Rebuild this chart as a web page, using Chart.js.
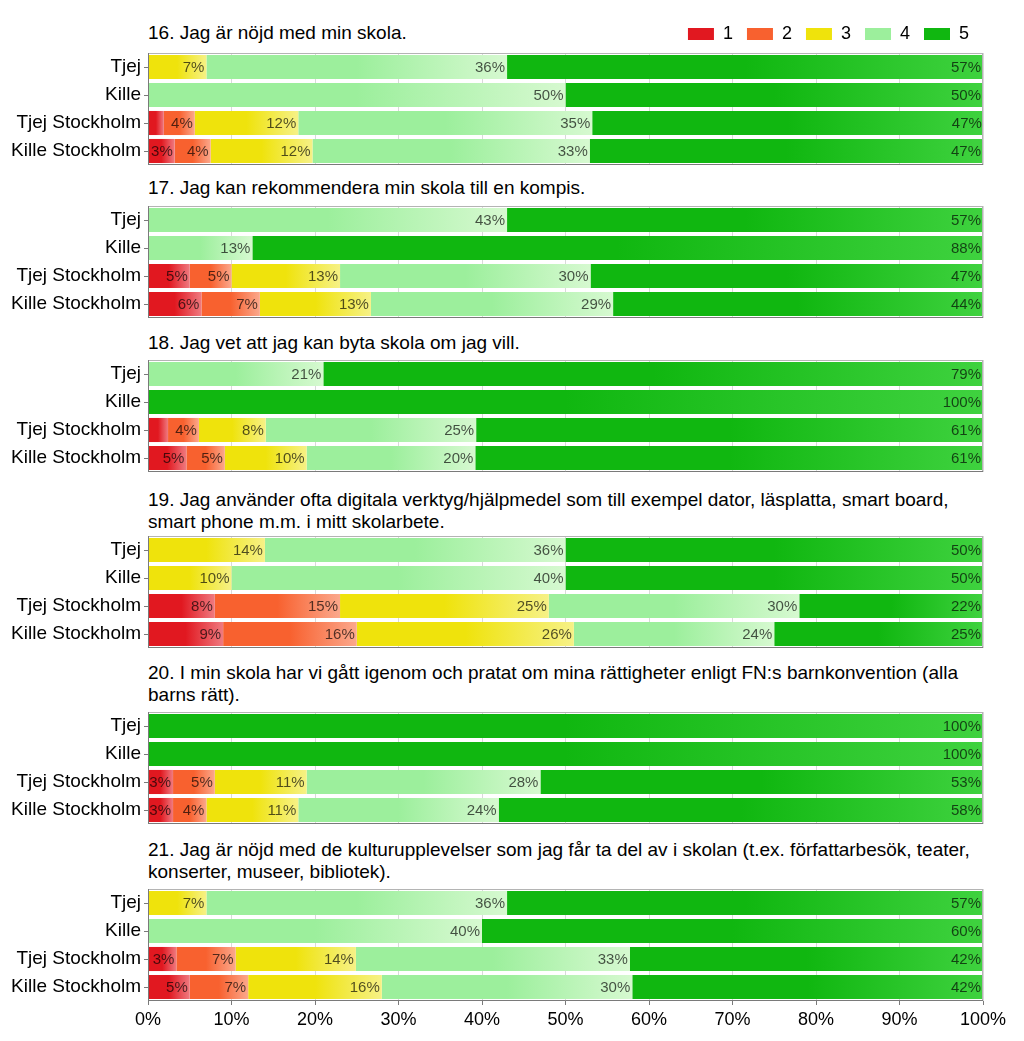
<!DOCTYPE html>
<html>
<head>
<meta charset="utf-8">
<script src="https://cdn.jsdelivr.net/npm/chart.js@4/dist/chart.umd.min.js"></script>
<style>
body { margin: 0; background: #fff; font-family: "Liberation Sans", Arial, sans-serif; }
#wrap { position: relative; width: 1024px; height: 1041px; overflow: hidden; }
.title { position: absolute; left: 148px; font-size: 19px; line-height: 22px; color: #000; white-space: nowrap; }
canvas { position: absolute; left: 0; }
</style>
</head>
<body>
<div id="wrap"></div>
<script>
// rows shown in every panel
const rowLabels = ['Tjej', 'Kille', 'Tjej Stockholm', 'Kille Stockholm'];
const seriesNames = ['1', '2', '3', '4', '5'];

const questions = [
    '16. Jag är nöjd med min skola.',
    '17. Jag kan rekommendera min skola till en kompis.',
    '18. Jag vet att jag kan byta skola om jag vill.',
    '19. Jag använder ofta digitala verktyg/hjälpmedel som till exempel dator, läsplatta, smart board,<br>smart phone m.m. i mitt skolarbete.',
    '20. I min skola har vi gått igenom och pratat om mina rättigheter enligt FN:s barnkonvention (alla<br>barns rätt).',
    '21. Jag är nöjd med de kulturupplevelser som jag får ta del av i skolan (t.ex. författarbesök, teater,<br>konserter, museer, bibliotek).'
];

// percentages, 4 rows per question (q16..q21)
const grade1 = [0, 0, 1.9, 3.2,   0, 0, 5, 6.4,      0, 0, 2.4, 4.6,    0, 0, 8, 9,      0, 0, 3, 3,      0, 0, 3.4, 5];
const grade2 = [0, 0, 3.7, 4.3,   0, 0, 5, 7,        0, 0, 3.7, 4.6,    0, 0, 15, 16,    0, 0, 5, 4,      0, 0, 7.1, 7];
const grade3 = [7, 0, 12.4, 12.2, 0, 0, 13, 13.3,    0, 0, 8, 9.8,      14, 10, 25, 26,  0, 0, 11, 11,    7, 0, 14.4, 16];
const grade4 = [36, 50, 35.2, 33.2, 43, 12.5, 30, 29, 21, 0, 25.2, 20.2, 36, 40, 30, 24, 0, 0, 28, 24,    36, 40, 32.8, 30];
const grade5 = [57, 50, 46.9, 47.1, 57, 87.5, 47, 44.3, 79, 100, 60.7, 60.8, 50, 50, 22, 25, 100, 100, 53, 58, 57, 60, 42.3, 42];
const xTicks = [0, 10, 20, 30, 40, 50, 60, 70, 80, 90, 100];

const gradeData = [grade1, grade2, grade3, grade4, grade5];
const gradeColors = [
    ['#e11820', '#ef7a80'],
    ['#f8612f', '#fba88c'],
    ['#efe30c', '#f6f186'],
    ['#9cef9c', '#d6f9d0'],
    ['#10b710', '#3fd23f']
];

const boxTops = [53, 206, 360, 536, 712, 889];
const titleTops = [22, 177, 332, 489, 662, 839];
const boxH = 112;

function segFill(c) {
    const cols = gradeColors[c.datasetIndex];
    const chart = c.chart;
    if (c.type !== 'data' || !chart.chartArea) return cols[0];
    const xs = chart.scales.x;
    let start = 0;
    for (let d = 0; d < c.datasetIndex; d++) start += chart.data.datasets[d].data[c.dataIndex];
    const end = start + chart.data.datasets[c.datasetIndex].data[c.dataIndex];
    const x0 = xs.getPixelForValue(start);
    const x1 = xs.getPixelForValue(end);
    if (x1 - x0 < 1) return cols[0];
    const g = chart.ctx.createLinearGradient(x0, 0, x1, 0);
    g.addColorStop(0, cols[0]);
    g.addColorStop(0.5, cols[0]);
    g.addColorStop(1, cols[1]);
    return g;
}

const barLabels = {
    id: 'barLabels',
    afterDatasetsDraw(chart) {
        const ctx = chart.ctx;
        ctx.save();
        ctx.font = '15px "Liberation Sans", Arial, sans-serif';
        ctx.fillStyle = 'rgba(0,0,0,0.68)';
        ctx.textAlign = 'right';
        ctx.textBaseline = 'middle';
        chart.data.datasets.forEach((ds, d) => {
            chart.getDatasetMeta(d).data.forEach((el, i) => {
                const v = ds.data[i];
                if (v < 2.5) return;
                ctx.fillText(Math.round(v) + '%', el.x - 2, el.y + 1);
            });
        });
        ctx.restore();
    }
};

const plotBox = {
    id: 'plotBox',
    afterDatasetsDraw(chart) {
        const a = chart.chartArea;
        const ctx = chart.ctx;
        ctx.save();
        ctx.strokeStyle = '#b4b4b4';
        ctx.lineWidth = 1;
        ctx.strokeRect(a.left + 0.5, a.top + 0.5, a.right - a.left - 1, a.bottom - a.top - 1);
        ctx.strokeStyle = '#7a7a7a';
        ctx.beginPath();
        ctx.moveTo(a.left + 0.5, a.top);
        ctx.lineTo(a.left + 0.5, a.bottom);
        ctx.moveTo(a.left, a.bottom - 0.5);
        ctx.lineTo(a.right, a.bottom - 0.5);
        ctx.stroke();
        ctx.restore();
    }
};

const legendH = 42;
const legendHeight = {
    id: 'legendHeight',
    beforeInit(chart) {
        if (!chart.legend) return;
        const fit = chart.legend.fit;
        chart.legend.fit = function () {
            fit.bind(chart.legend)();
            this.height = legendH;
        };
    }
};

const wrap = document.getElementById('wrap');

questions.forEach((q, p) => {
    const t = document.createElement('div');
    t.className = 'title';
    t.style.top = titleTops[p] + 'px';
    t.innerHTML = q;
    wrap.appendChild(t);

    const first = p === 0;
    const last = p === questions.length - 1;
    const topPad = first ? legendH + 2 : 2;
    const bottomPad = last ? 32 : 2;

    const cv = document.createElement('canvas');
    cv.width = 1024;
    cv.height = topPad + boxH + bottomPad;
    cv.style.top = (boxTops[p] - topPad) + 'px';
    wrap.appendChild(cv);

    const datasets = seriesNames.map((name, s) => ({
        label: name,
        data: gradeData[s].slice(p * 4, p * 4 + 4),
        backgroundColor: segFill,
        borderWidth: 0,
        barPercentage: 0.86,
        categoryPercentage: 1
    }));

    new Chart(cv.getContext('2d'), {
        type: 'bar',
        data: { labels: rowLabels, datasets: datasets },
        plugins: first ? [legendHeight, barLabels, plotBox] : [barLabels, plotBox],
        options: {
            indexAxis: 'y',
            responsive: false,
            animation: false,
            devicePixelRatio: 1,
            layout: { padding: { left: 0, right: 41, top: 2, bottom: last ? 0 : 2 } },
            plugins: {
                tooltip: { enabled: false },
                legend: {
                    display: first,
                    position: 'top',
                    align: 'end',
                    labels: {
                        boxWidth: 26,
                        boxHeight: 12,
                        padding: 14,
                        color: '#000',
                        font: { family: '"Liberation Sans", Arial, sans-serif', size: 18 },
                        generateLabels: () => seriesNames.map((n, i) => ({
                            text: n,
                            fillStyle: gradeColors[i][0],
                            strokeStyle: gradeColors[i][0],
                            lineWidth: 0,
                            hidden: false,
                            datasetIndex: i
                        }))
                    }
                }
            },
            scales: {
                x: {
                    stacked: true,
                    min: 0,
                    max: 100,
                    afterBuildTicks: s => { s.ticks = xTicks.map(v => ({ value: v })); },
                    border: { display: false },
                    grid: { color: '#d9d9d9', drawTicks: last, tickLength: 4, tickColor: '#7a7a7a' },
                    ticks: {
                        display: last,
                        padding: 4,
                        color: '#000',
                        font: { family: '"Liberation Sans", Arial, sans-serif', size: 18 },
                        callback: v => v + '%'
                    },
                    afterFit: s => {
                        s.height = last ? 32 : 0;
                        s.paddingLeft = 0;
                        s.paddingRight = 0;
                    }
                },
                y: {
                    stacked: true,
                    border: { display: false },
                    grid: { offset: false, drawOnChartArea: false, tickLength: 4, tickColor: '#7a7a7a' },
                    ticks: {
                        autoSkip: false,
                        padding: 3,
                        color: '#000',
                        font: { family: '"Liberation Sans", Arial, sans-serif', size: 19 }
                    },
                    afterFit: s => {
                        s.width = 148;
                        s.paddingTop = 0;
                        s.paddingBottom = 0;
                    }
                }
            }
        }
    });
});
</script>
</body>
</html>
